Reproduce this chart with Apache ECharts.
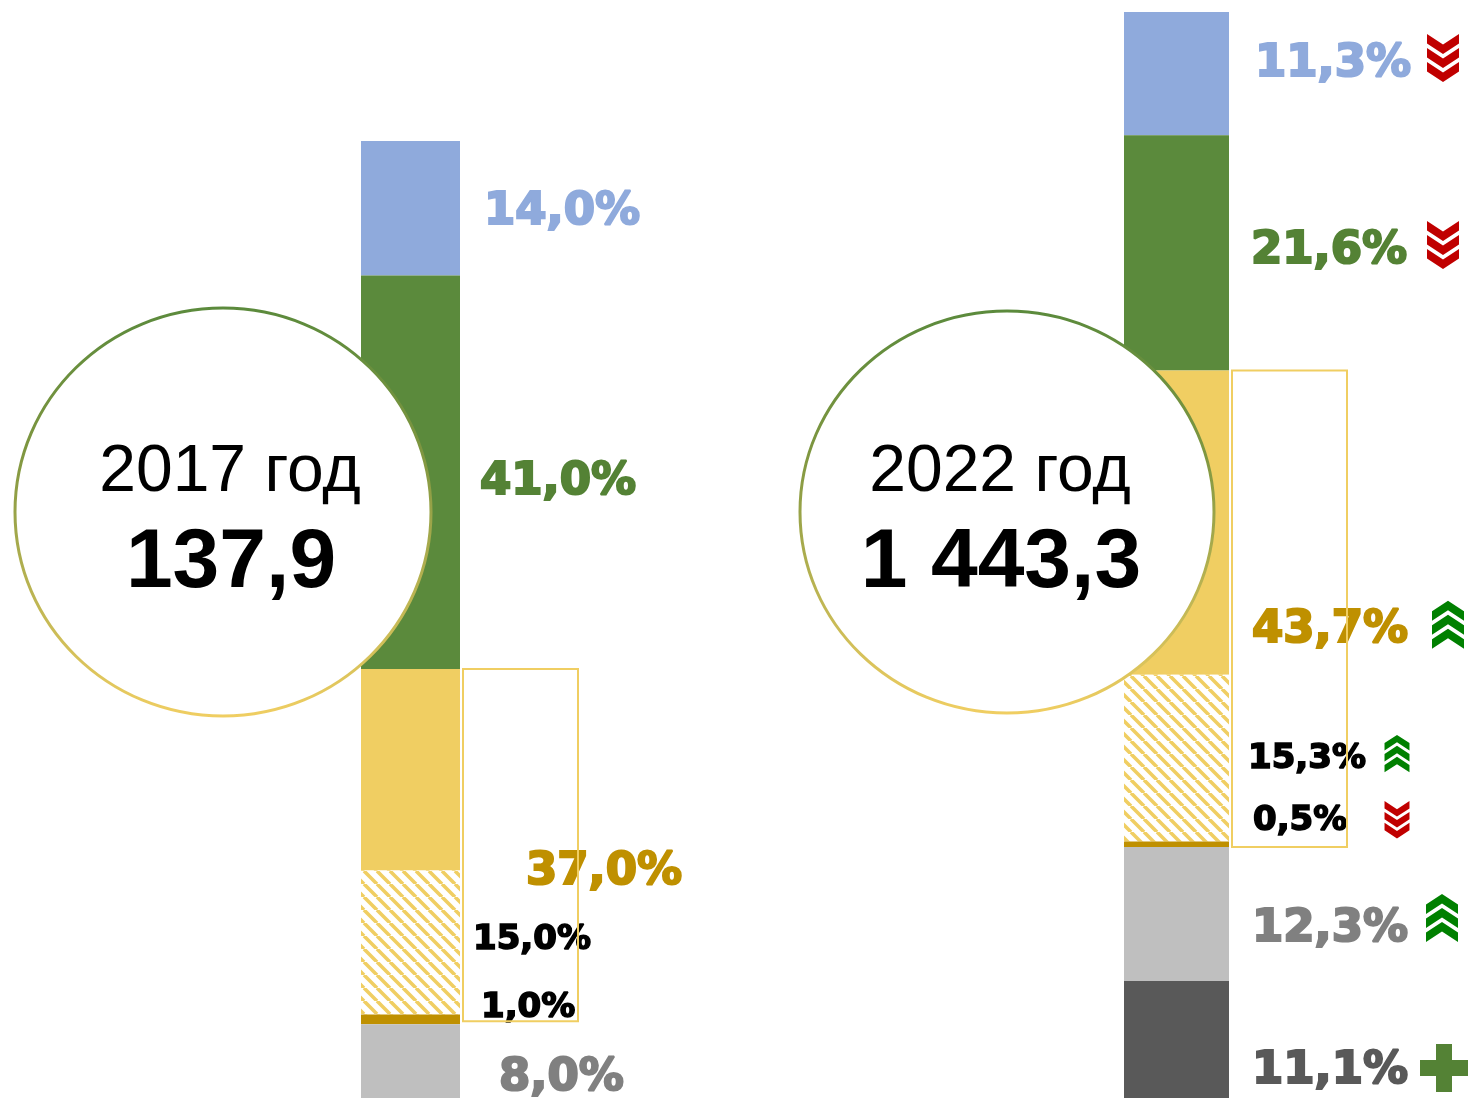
<!DOCTYPE html>
<html><head><meta charset="utf-8">
<script src="https://cdn.jsdelivr.net/npm/echarts@6/dist/echarts.min.js"></script>
<style>html,body{margin:0;padding:0;background:#fff}#c{width:1473px;height:1098px}</style>
</head><body><div id="c"></div>
<script>
// ---- data ----
const years = ['2017 год', '2022 год'];
const totals = ['137,9', '1 443,3'];
const blueShare = [14.0, 11.3];
const greenShare = [41.0, 21.6];
const yellowTotal = [37.0, 43.7];   // label of the whole yellow block (solid + hatched + dark)
const hatchedShare = [15.0, 15.3];
const darkGoldShare = [1.0, 0.5];
const grayShare = [8.0, 12.3];
const darkGrayShare = [null, 11.1];
const trends2022 = ['down', 'down', 'up', 'up', 'down', 'up', 'new'];

// ---- styles / layout ----
const fmt = v => v.toFixed(1).replace('.', ',') + '%';
function hatchCanvas() {
  const c = document.createElement('canvas'); const s = 13;
  c.width = s; c.height = s;
  const g = c.getContext('2d');
  g.fillStyle = '#fff'; g.fillRect(0, 0, s, s);
  g.strokeStyle = '#F0CE62'; g.lineWidth = 3.6;
  g.beginPath();
  for (const o of [-s, 0, s]) { g.moveTo(o, 0); g.lineTo(o + s, s); }
  g.stroke();
  return c;
}
const hatch = hatchCanvas();

const segs = [
  { key: 'blue', data: blueShare, color: '#8FAADC', lc: '#8FAADC', big: true },
  { key: 'green', data: greenShare, color: '#5B8A3C', lc: '#548235', big: true },
  { key: 'yellow', data: yellowTotal.map((t, i) => +(t - hatchedShare[i] - darkGoldShare[i]).toFixed(1)), labelVals: yellowTotal, color: '#F0CE62', lc: '#BF9000', big: true },
  { key: 'hatched', data: hatchedShare, color: { image: hatch, repeat: 'repeat' }, lc: '#000', big: false },
  { key: 'dark', data: darkGoldShare, color: '#BF9000', lc: '#000', big: false },
  { key: 'gray', data: grayShare, color: '#BFBFBF', lc: '#808080', big: true },
  { key: 'dgray', data: darkGrayShare, color: '#595959', lc: '#595959', big: true }
];
// label offsets [dx, dy] relative to right edge / middle of each segment
const labelOff = [
  { blue: [24, 4], green: [20, 10], yellow: [66, 103], hatched: [13, -2], dark: [21, -11], gray: [39, 16] },
  { blue: [26, -9], green: [22, -2], yellow: [23, 108], hatched: [19, 1], dark: [24, -23], gray: [23, 15], dgray: [23, 30] }
];
const iconOff = { blue: [214, -15.5], green: [214, -8], yellow: [219, 102], hatched: [168, -4.5], dark: [168, -24.5], gray: [213, 4], dgray: [215, 26.5] };

// bars continue slightly below the picture's bottom edge (negative bottom)
const grids = [
  { left: 361, top: 141, width: 99, bottom: -3, outerBoundsMode: 'none' },
  { left: 1124, top: 12, width: 105, bottom: -4, outerBoundsMode: 'none' }
];

const series = [];
years.forEach((y, i) => {
  segs.forEach(s => {
    const v = s.data[i];
    if (v == null) return;
    const lv = s.labelVals ? s.labelVals[i] : v;
    const off = labelOff[i][s.key];
    series.push({
      type: 'bar', name: s.key, stack: 'y' + i, xAxisIndex: i, yAxisIndex: i,
      barWidth: '100%', data: [v], silent: true,
      itemStyle: { color: s.color },
      label: {
        show: true, position: 'right', distance: 0, offset: off,
        formatter: () => fmt(lv),
        fontFamily: 'DejaVu Sans', fontWeight: 'bold',
        fontSize: s.big ? 45 : 34, color: s.lc,
        textBorderColor: s.lc, textBorderWidth: s.big ? 2.2 : 1.6
      }
    });
  });
});

const chart = echarts.init(document.getElementById('c'), null, { renderer: 'canvas' });
chart.setOption({
  animation: false,
  grid: grids,
  xAxis: years.map((y, i) => ({ type: 'category', gridIndex: i, data: [y], show: false })),
  yAxis: years.map((y, i) => ({ type: 'value', gridIndex: i, min: 0, max: 100, inverse: true, show: false })),
  series
});

// ---- decorations computed from axes ----
function chevrons(kind, cx, cy, sc) {
  const w = 32 * sc, h = 20 * sc, t = 9.5 * sc, step = 14 * sc;
  const total = 2 * step + h;
  const color = kind === 'down' ? '#C00000' : '#008000';
  const out = [];
  for (let k = 0; k < 3; k++) {
    const x0 = cx - w / 2, y0 = cy - total / 2 + k * step;
    const pts = kind === 'down'
      ? [[0, 0], [w / 2, h - t], [w, 0], [w, t], [w / 2, h], [0, t]]
      : [[0, h], [w / 2, t], [w, h], [w, h - t], [w / 2, 0], [0, h - t]];
    out.push({ type: 'polygon', z: 50, shape: { points: pts.map(p => [p[0] + x0, p[1] + y0]) }, style: { fill: color } });
  }
  return out;
}
function plus(cx, cy) {
  const L = 48, T = 16, c = '#548235';
  return [
    { type: 'rect', z: 50, shape: { x: cx - L / 2, y: cy - T / 2, width: L, height: T }, style: { fill: c } },
    { type: 'rect', z: 50, shape: { x: cx - T / 2, y: cy - L / 2, width: T, height: L }, style: { fill: c } }
  ];
}

const graphic = [];
const py = (i, v) => chart.convertToPixel({ yAxisIndex: i }, v);
years.forEach((y, i) => {
  const g = grids[i];
  const top = py(i, blueShare[i] + greenShare[i]);
  const bot = py(i, blueShare[i] + greenShare[i] + yellowTotal[i]);
  graphic.push({
    type: 'rect', z: 40,
    shape: { x: g.left + g.width + 3, y: top, width: 115, height: bot - top - (i === 0 ? 3 : 0) },
    style: { fill: null, stroke: '#F0CE62', lineWidth: 2 }
  });
});
// trend icons for 2022
{
  let cum = 0;
  segs.forEach((s, k) => {
    const v = s.data[1];
    const mid = py(1, cum + v / 2);
    cum += v;
    const o = iconOff[s.key];
    const cx = grids[1].left + grids[1].width + o[0], cy = mid + o[1];
    const tr = trends2022[k];
    const small = !s.big;
    if (tr === 'new') graphic.push(...plus(cx, cy));
    else graphic.push(...chevrons(tr, cx, cy, small ? 0.78 : 1));
  });
}
// circles with year and total
const circles = [
  { cx: 223, cy: 512, rx: 208, ry: 204, tx: 230 },
  { cx: 1007, cy: 512, rx: 207, ry: 201, tx: 1000 }
];
circles.forEach((c, i) => {
  graphic.push({
    type: 'ellipse', z: 60,
    shape: { cx: c.cx, cy: c.cy, rx: c.rx, ry: c.ry },
    style: {
      fill: '#fff', lineWidth: 3,
      stroke: { type: 'linear', x: 0, y: 0, x2: 0, y2: 1, colorStops: [{ offset: 0, color: '#5B8A3C' }, { offset: 0.35, color: '#7E9640' }, { offset: 1, color: '#F0CE62' }] }
    }
  });
  graphic.push({
    type: 'text', z: 61, x: c.tx, y: 473,
    style: { text: years[i], font: '66px "Liberation Sans", Arial, sans-serif', fill: '#000', textAlign: 'center', textVerticalAlign: 'middle' }
  });
  graphic.push({
    type: 'text', z: 61, x: c.tx + 1, y: 564,
    style: { text: totals[i], font: 'bold 84px "Liberation Sans", Arial, sans-serif', fill: '#000', textAlign: 'center', textVerticalAlign: 'middle' }
  });
});
chart.setOption({ graphic });
</script>
</body></html>
